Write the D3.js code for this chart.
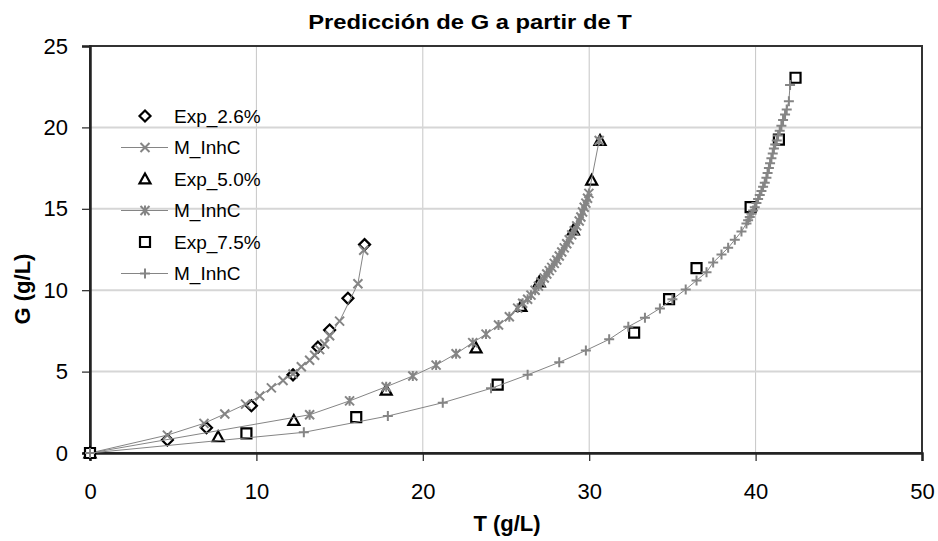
<!DOCTYPE html>
<html><head><meta charset="utf-8">
<script src="https://cdn.jsdelivr.net/npm/d3@7"></script>
<style>body{margin:0;background:#fff}svg{display:block;font-family:"Liberation Sans",Arial,sans-serif}</style>
</head><body><svg id="c" width="938" height="541"></svg>
<script>
const title = "Predicción de G a partir de T";
const xTitle = "T (g/L)";
const yTitle = "G (g/L)";
const xTicks = [0, 10, 20, 30, 40, 50];
const yTicks = [0, 5, 10, 15, 20, 25];
const seriesNames = ["Exp_2.6%", "M_InhC", "Exp_5.0%", "M_InhC", "Exp_7.5%", "M_InhC"];

const exp26T = [0, 4.65, 7.0, 9.7, 12.2, 13.7, 14.4, 15.5, 16.5];
const exp26G = [0, 0.8, 1.55, 2.9, 4.8, 6.5, 7.55, 9.5, 12.8];

const m26T = [0, 4.65, 6.85, 8.1, 9.35, 10.2, 10.9, 11.6, 12.2, 12.7, 13.2, 13.5, 13.8, 14.1, 14.4, 15.0, 16.1, 16.45];
const m26G = [0, 1.1, 1.82, 2.4, 3.0, 3.5, 4.0, 4.45, 4.85, 5.3, 5.7, 6.0, 6.35, 6.7, 7.2, 8.1, 10.4, 12.45];

const exp50T = [0, 7.7, 12.25, 17.8, 23.2, 25.9, 27.0, 29.05, 30.15, 30.65];
const exp50G = [0, 1.0, 2.0, 3.85, 6.45, 9.0, 10.5, 13.7, 16.75, 19.2];

const m50T = [0, 13.2, 15.6, 17.8, 19.4, 20.8, 22.0, 23.0, 23.8, 24.55, 25.2, 25.7, 26.0, 26.3, 26.5, 26.75, 26.95, 27.1, 27.3, 27.45, 27.6, 27.75, 27.9, 28.05, 28.2, 28.35, 28.5, 28.65, 28.8, 28.95, 29.1, 29.25, 29.4, 29.5, 29.6, 29.7, 29.8, 29.9, 29.98, 30.6];
const m50G = [0, 2.35, 3.2, 4.07, 4.73, 5.4, 6.1, 6.78, 7.3, 7.86, 8.37, 8.9, 9.2, 9.44, 9.7, 10.0, 10.25, 10.5, 10.75, 11.0, 11.2, 11.4, 11.65, 11.85, 12.1, 12.35, 12.6, 12.85, 13.1, 13.4, 13.65, 13.95, 14.25, 14.5, 14.8, 15.1, 15.35, 15.65, 15.95, 19.2];

const exp75T = [0, 9.4, 16.0, 24.5, 32.7, 34.8, 36.45, 39.7, 41.4, 42.4];
const exp75G = [0, 1.2, 2.2, 4.2, 7.4, 9.45, 11.35, 15.1, 19.25, 23.05];

const m75T = [0, 12.85, 17.9, 21.2, 24.1, 26.3, 28.2, 29.8, 31.2, 32.35, 33.35, 34.25, 35.0, 35.8, 36.45, 37.05, 37.45, 37.95, 38.35, 38.75, 39.15, 39.45, 39.55, 39.65, 39.75, 39.85, 39.95, 40.05, 40.15, 40.25, 40.35, 40.45, 40.55, 40.65, 40.72, 40.8, 40.87, 40.95, 41.03, 41.1, 41.18, 41.27, 41.35, 41.45, 41.55, 41.65, 41.77, 41.87, 42.0, 42.07];
const m75G = [0, 1.27, 2.27, 3.09, 3.97, 4.8, 5.57, 6.3, 6.98, 7.76, 8.31, 8.88, 9.44, 10.05, 10.6, 11.1, 11.7, 12.2, 12.6, 13.1, 13.6, 14.1, 14.3, 14.5, 14.7, 14.9, 15.1, 15.35, 15.6, 15.85, 16.1, 16.35, 16.6, 16.9, 17.2, 17.5, 17.8, 18.1, 18.4, 18.7, 18.95, 19.2, 19.5, 19.8, 20.1, 20.45, 20.8, 21.1, 21.6, 22.6];

const zip = (a, b) => a.map((v, i) => [v, b[i]]);

const svg = d3.select("#c");
const L = 90, R = 922, T = 46, B = 453;
const x = d3.scaleLinear().domain([0, 50]).range([L, R]);
const y = d3.scaleLinear().domain([0, 25]).range([B, T]);

// gridlines
svg.append("g").selectAll("line").data(xTicks.slice(1, -1)).join("line")
  .attr("x1", d => x(d)).attr("x2", d => x(d)).attr("y1", T).attr("y2", B)
  .attr("stroke", "#c6c6c6").attr("stroke-width", 1);
svg.append("g").selectAll("line").data(yTicks.slice(1, -1)).join("line")
  .attr("x1", L).attr("x2", R).attr("y1", d => y(d)).attr("y2", d => y(d))
  .attr("stroke", "#d6d6d6").attr("stroke-width", 2);

// frame
svg.append("rect").attr("x", L).attr("y", T).attr("width", R - L).attr("height", B - T)
  .attr("fill", "none").attr("stroke", "#333").attr("stroke-width", 2);

// axes
const xAxis = svg.append("g").attr("transform", `translate(0,${B})`)
  .call(d3.axisBottom(x).tickValues(xTicks).tickSize(8).tickPadding(22).tickFormat(d3.format("d")));
const yAxis = svg.append("g").attr("transform", `translate(${L},0)`)
  .call(d3.axisLeft(y).tickValues(yTicks).tickSize(8).tickPadding(14).tickFormat(d3.format("d")));
[xAxis, yAxis].forEach(a => {
  a.select(".domain").attr("stroke", "#222").attr("stroke-width", 2.5);
  a.selectAll(".tick line").attr("stroke", "#222").attr("stroke-width", 1.2);
  a.selectAll("text").attr("font-size", 22).attr("fill", "#000").attr("font-family", "Liberation Sans, Arial, sans-serif");
});

// marker shapes
const shapes = {
  diamond: s => `M0,${-s}L${s},0L0,${s}L${-s},0Z`,
  triangle: s => `M0,${-s}L${s},${s * 0.8}L${-s},${s * 0.8}Z`,
  square: s => `M${-s},${-s}H${s}V${s}H${-s}Z`,
  cross: s => `M${-s},${-s}L${s},${s}M${-s},${s}L${s},${-s}`,
  star: s => `M${-s},${-s}L${s},${s}M${-s},${s}L${s},${-s}M0,${-s * 1.1}V${s * 1.1}`,
  plus: s => `M${-s},0H${s}M0,${-s}V${s}`
};
const GRAY = "#858585";

function drawExp(data, shape, size) {
  svg.append("g").selectAll("path").data(data).join("path")
    .attr("transform", d => `translate(${x(d[0])},${y(d[1])})`)
    .attr("d", shapes[shape](size))
    .attr("fill", "#fff").attr("stroke", "#000").attr("stroke-width", 2.2);
}
function drawModel(data, shape, size) {
  svg.append("path").datum(data)
    .attr("d", d3.line().x(d => x(d[0])).y(d => y(d[1])))
    .attr("fill", "none").attr("stroke", GRAY).attr("stroke-width", 1);
  svg.append("g").selectAll("path").data(data).join("path")
    .attr("transform", d => `translate(${x(d[0])},${y(d[1])})`)
    .attr("d", shapes[shape](size))
    .attr("fill", "none").attr("stroke", GRAY).attr("stroke-width", 2);
}

drawExp(zip(exp26T, exp26G), "diamond", 5.5);
drawModel(zip(m26T, m26G), "cross", 4.5);
drawExp(zip(exp50T, exp50G), "triangle", 5.5);
drawModel(zip(m50T, m50G), "star", 4.5);
drawExp(zip(exp75T, exp75G), "square", 5);
drawModel(zip(m75T, m75G), "plus", 5);

// legend
const legend = [
  {name: seriesNames[0], shape: "diamond", exp: true, size: 5.5},
  {name: seriesNames[1], shape: "cross", exp: false, size: 4.5},
  {name: seriesNames[2], shape: "triangle", exp: true, size: 5.5},
  {name: seriesNames[3], shape: "star", exp: false, size: 4.5},
  {name: seriesNames[4], shape: "square", exp: true, size: 5},
  {name: seriesNames[5], shape: "plus", exp: false, size: 5}
];
const lg = svg.append("g").selectAll("g").data(legend).join("g")
  .attr("transform", (d, i) => `translate(0,${116 + i * 31.5})`);
lg.filter(d => !d.exp).append("line").attr("x1", 121).attr("x2", 168)
  .attr("stroke", GRAY).attr("stroke-width", 1);
lg.append("path").attr("transform", "translate(145,0)")
  .attr("d", d => shapes[d.shape](d.size))
  .attr("fill", d => d.exp ? "#fff" : "none")
  .attr("stroke", d => d.exp ? "#000" : GRAY)
  .attr("stroke-width", d => d.exp ? 2.2 : 2);
lg.append("text").attr("x", 174).attr("dy", "0.36em").attr("font-size", 19)
  .attr("fill", "#000").text(d => d.name);

// titles
svg.append("text").attr("transform", "translate(470,29) scale(1.16,1)").attr("text-anchor", "middle")
  .attr("font-size", 20.5).attr("font-weight", "bold").text(title);
svg.append("text").attr("x", 507).attr("y", 531).attr("text-anchor", "middle")
  .attr("font-size", 22).attr("font-weight", "bold").text(xTitle);
svg.append("text").attr("transform", "translate(30,289) rotate(-90)").attr("text-anchor", "middle")
  .attr("font-size", 22).attr("font-weight", "bold").text(yTitle);
</script></body></html>
